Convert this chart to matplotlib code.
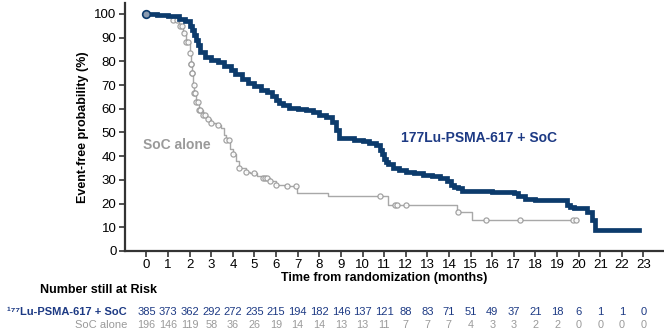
import numpy as np
import matplotlib
matplotlib.use('Agg')
import matplotlib.pyplot as plt

plt.rcParams['font.family'] = ['Liberation Sans', 'DejaVu Sans']

# 177Lu-PSMA-617 + SoC (step knots)
lu_t = [0, 0.5, 1.0, 1.5, 1.8, 2.0, 2.1, 2.2, 2.3, 2.4, 2.5, 2.7, 3.0, 3.3, 3.6, 3.9,
        4.1, 4.4, 4.7, 5.0, 5.3, 5.6, 5.8, 6.0, 6.15, 6.3, 6.6, 7.0, 7.4, 7.7, 8.0, 8.3,
        8.6, 8.75, 8.9, 9.6, 10.0, 10.3, 10.6, 10.8, 10.9, 11.0, 11.1, 11.2, 11.4, 11.7,
        12.0, 12.4, 12.8, 13.2, 13.6, 13.9, 14.1, 14.25, 14.4, 14.6, 16.0, 17.0, 17.2,
        17.5, 18.0, 19.45, 19.6, 19.8, 20.4, 20.6, 20.75, 22.8]
lu_s = [100, 99.5, 99, 98, 97, 95, 93, 91, 89, 87, 84, 82, 80.5, 79.5, 78, 76.5,
        74.5, 72.5, 71, 69.5, 68, 67, 65.5, 63.5, 62.5, 61.5, 60.5, 60, 59.5, 58.5, 57.5,
        56.5, 54.5, 51, 47.5, 47, 46.5, 45.5, 44.5, 42.5, 41, 39, 37.5, 36.5, 35, 34,
        33.5, 32.8, 32, 31.5, 30.8, 29.5, 28, 27.2, 26.5, 25.5, 25, 24.5, 23,
        22, 21.5, 19.5, 18.5, 18, 16.5, 13, 8.7, 8.7]

# SoC alone
soc_t = [0, 0.5, 0.9, 1.2, 1.5, 1.7, 1.85, 2.0, 2.05, 2.1, 2.15, 2.2, 2.3, 2.45, 2.6,
         2.8, 3.0, 3.2, 3.45, 3.6, 3.7, 3.85, 4.0, 4.15, 4.3, 4.6, 4.8, 5.1, 5.4, 5.7, 6.0,
         6.4, 6.95, 8.4, 11.2, 14.35, 15.05, 19.95]
soc_s = [100, 99.5, 98.5, 97.5, 95, 92, 88, 83.5, 79, 75, 70, 66.5, 63, 59.5, 57.5,
         55.5, 54, 53, 52, 49, 46.8, 43, 41, 38, 35, 33.5, 32.8, 31.5, 30.7, 29.5, 28,
         27.5, 24.6, 23, 19.4, 16.6, 13, 13]
soc_cens = [0, 1.25, 1.4, 1.55, 1.65, 1.75, 1.85, 1.9, 2.0, 2.05, 2.08, 2.1, 2.12, 2.18,
            2.22, 2.25, 2.3, 2.38, 2.45, 2.5, 2.6, 2.7, 2.85, 3.0, 3.3, 3.7, 3.8, 4.0,
            4.3, 4.6, 5.0, 5.4, 5.5, 5.6, 5.7, 6.0, 6.5, 6.9, 10.8, 11.5, 11.6, 12.0,
            14.4, 15.7, 17.3, 19.75, 19.9]

months = np.arange(0, 24)
lu_risk = [385, 373, 362, 292, 272, 235, 215, 194, 182, 146, 137, 121, 88, 83, 71, 51,
           49, 37, 21, 18, 6, 1, 1, 0]
soc_risk = [196, 146, 119, 58, 36, 26, 19, 14, 14, 13, 13, 11, 7, 7, 7, 4, 3, 3, 2, 2,
            0, 0, 0, 0]

navy = '#0c3b6c'
label_blue = '#1d3a84'
grey = '#a8a8a8'
grey_txt = '#9a9a9a'

fig = plt.figure(figsize=(6.64, 3.32), dpi=100)
ax = fig.add_axes([0.188, 0.244, 0.812, 0.747])

# SoC alone curve
ax.step(soc_t, soc_s, where='post', color=grey, lw=1.0, zorder=2)
idx = np.searchsorted(soc_t, soc_cens, side='right') - 1
ax.plot(soc_cens, np.array(soc_s)[idx], 'o', ms=3.7, mfc='white', mec='#999999',
        mew=0.9, zorder=3, alpha=0.9)

# Lu-PSMA curve
ax.step(lu_t, lu_s, where='post', color=navy, lw=3.4, zorder=4, solid_joinstyle='miter')
ax.plot([0], [100], 'o', ms=5.5, mfc='#8a9bb0', mec=navy, mew=1.2, zorder=5)

ax.set_xlim(-1, 23.95)
ax.set_ylim(0, 104.6)
ax.set_xticks(months)
ax.set_yticks(np.arange(0, 101, 10))
ax.tick_params(axis='both', direction='out', length=4, width=1.2, color='#333333',
               labelsize=9.5, pad=2)
for s in ['top', 'right']:
    ax.spines[s].set_visible(False)
for s in ['left', 'bottom']:
    ax.spines[s].set_linewidth(1.6)
    ax.spines[s].set_color('#333333')

ax.set_ylabel('Event-free probability (%)', fontsize=9, fontweight='bold', labelpad=4)

ax.text(-0.15, 44.5, 'SoC alone', color=grey_txt, fontsize=10, fontweight='bold',
        va='center', ha='left')
ax.text(11.8, 47.5, '177Lu-PSMA-617 + SoC', color=label_blue, fontsize=10,
        fontweight='bold', va='center', ha='left')

# x label and risk table
fig.text(0.578, 1 - 278 / 332, 'Time from randomization (months)', ha='center',
         va='center', fontsize=9, fontweight='bold')
fig.text(0.06, 1 - 290 / 332, 'Number still at Risk', ha='left', va='center',
         fontsize=9, fontweight='bold')

y_lu = 1 - 312 / 332
y_soc = 1 - 325 / 332
fig.text(127 / 664, y_lu, '¹⁷⁷Lu-PSMA-617 + SoC', ha='right', va='center',
         fontsize=8, fontweight='bold', color=label_blue)
fig.text(127 / 664, y_soc, 'SoC alone', ha='right', va='center', fontsize=8,
         color=grey_txt)
for m, a, b in zip(months, lu_risk, soc_risk):
    xf = fig.transFigure.inverted().transform(ax.transData.transform((m, 0)))[0]
    fig.text(xf, y_lu, str(a), ha='center', va='center', fontsize=8, color=label_blue)
    fig.text(xf, y_soc, str(b), ha='center', va='center', fontsize=7.8, color=grey_txt)

fig.savefig('out.png', dpi=100)
